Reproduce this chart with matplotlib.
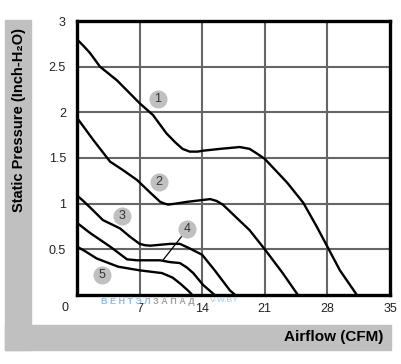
import matplotlib
matplotlib.use("Agg")
import matplotlib.pyplot as plt
from matplotlib.patches import Rectangle

plt.rcParams['font.family'] = ['Liberation Sans', 'DejaVu Sans']

# fan curves (airflow CFM, static pressure inch H2O)
c1_x = [0, 0.7, 1.45, 2.57, 4.47, 7.0, 8.5, 10.0, 11.0, 11.8, 12.6, 13.5, 14.1, 16.0, 18.2, 19.3, 20.1, 21.0, 23.5, 25.3, 26.8, 28.1, 29.4, 31.3]
c1_y = [2.80, 2.73, 2.65, 2.50, 2.35, 2.10, 1.97, 1.77, 1.67, 1.60, 1.57, 1.57, 1.58, 1.60, 1.62, 1.60, 1.55, 1.49, 1.23, 1.01, 0.75, 0.51, 0.27, 0]
c2_x = [0, 0.9, 1.8, 3.7, 5.1, 6.7, 8.2, 9.3, 9.8, 10.2, 11.0, 12.3, 14.9, 15.6, 16.3, 19.3, 21.0, 23.0, 24.7]
c2_y = [1.94, 1.82, 1.70, 1.46, 1.37, 1.26, 1.12, 1.02, 1.00, 0.99, 1.00, 1.02, 1.05, 1.03, 0.99, 0.71, 0.50, 0.24, 0]
c3_x = [0, 0.7, 1.45, 2.9, 4.8, 5.9, 7.0, 7.6, 8.2, 10.4, 11.5, 12.6, 14.0, 15.4, 17.1, 17.7]
c3_y = [1.09, 1.03, 0.96, 0.82, 0.73, 0.64, 0.56, 0.545, 0.54, 0.56, 0.56, 0.51, 0.44, 0.27, 0.05, 0]
c4_x = [0, 1.45, 3.7, 5.6, 6.2, 6.7, 9.3, 10.4, 11.5, 12.3, 13.0, 14.1, 15.4]
c4_y = [0.79, 0.68, 0.53, 0.39, 0.385, 0.38, 0.38, 0.36, 0.35, 0.30, 0.24, 0.11, 0]
c5_x = [0, 0.9, 2.2, 4.6, 7.0, 9.5, 10.7, 11.6, 12.4, 12.9]
c5_y = [0.53, 0.48, 0.40, 0.31, 0.27, 0.24, 0.19, 0.12, 0.05, 0]

curves = [(c1_x, c1_y), (c2_x, c2_y), (c3_x, c3_y), (c4_x, c4_y), (c5_x, c5_y)]
labels = ["1", "2", "3", "4", "5"]
label_x = [9.06, 9.17, 5.03, 12.3, 2.8]
label_y = [2.15, 1.24, 0.865, 0.72, 0.22]

x_ticks = [7, 14, 21, 28, 35]
y_ticks = [0.5, 1, 1.5, 2, 2.5, 3]

fig = plt.figure(figsize=(4.01, 3.64), dpi=100)
W, H = 401, 364

# gray L-shaped frame behind the axis titles
gray = '#c0c0c0'
fig.patches.append(Rectangle((5 / W, 1 - 350 / H), 26 / W, 330 / H, transform=fig.transFigure, color=gray, zorder=0))
fig.patches.append(Rectangle((5 / W, 1 - 350 / H), 386 / W, 25 / H, transform=fig.transFigure, color=gray, zorder=0))

ax = fig.add_axes([77 / W, 1 - 295 / H, 313 / W, 274 / H])
ax.set_xlim(0, 35)
ax.set_ylim(0, 3)

for xt in x_ticks[:-1]:
    ax.axvline(xt, color='#666666', lw=1.5, zorder=1)
for yt in y_ticks[:-1]:
    ax.axhline(yt, color='#666666', lw=1.5, zorder=1)

for cx, cy in curves:
    ax.plot(cx, cy, color='black', lw=1.7, zorder=3, solid_joinstyle='round')

# leader line for curve 4
ax.plot([9.6, 11.85], [0.38, 0.66], color='black', lw=0.9, zorder=3)

for lab, lx, ly in zip(labels, label_x, label_y):
    ax.plot(lx, ly, 'o', ms=13, color='#c0c0c0', mec='none', zorder=4)
    ax.text(lx, ly, lab, ha='center', va='center', fontsize=9, color='#333333', zorder=5)

ax.set_xticks(x_ticks)
ax.set_yticks(y_ticks)
ax.set_yticklabels(['0.5', '1', '1.5', '2', '2.5', '3'])
ax.tick_params(length=0, labelsize=9, labelcolor='#222222')
ax.tick_params(axis='y', pad=8)
ax.tick_params(axis='x', pad=6)
ax.annotate('0', xy=(0, 0), xytext=(-12, -13), textcoords='offset pixels',
            ha='center', va='center', fontsize=9, color='#222222', annotation_clip=False)

for sp in ax.spines.values():
    sp.set_linewidth(2.4)
    sp.set_color('black')
    sp.set_zorder(6)

fig.text(19 / W, 1 - 28 / H, 'Static Pressure (Inch-H\u2082O)', rotation=90,
         ha='center', va='top', fontsize=10.5, fontweight='bold', color='black')
fig.text(383 / W, 1 - 337 / H, 'Airflow (CFM)', ha='right', va='center',
         fontsize=11, fontweight='bold', color='black')

# watermark
fig.text(101 / W, 1 - 301 / H, 'В Е Н Т Э Л', ha='left', va='center', fontsize=6.5,
         fontweight='bold', color='#86c0e6')
fig.text(153 / W, 1 - 301 / H, 'З А П А Д', ha='left', va='center', fontsize=6.5,
         fontweight='bold', color='#a0a0a0')
fig.text(210 / W, 1 - 301 / H, 'V-W.BY', ha='left', va='center', fontsize=6,
         color='#9cc8ec')

fig.savefig('out.png', dpi=100)
